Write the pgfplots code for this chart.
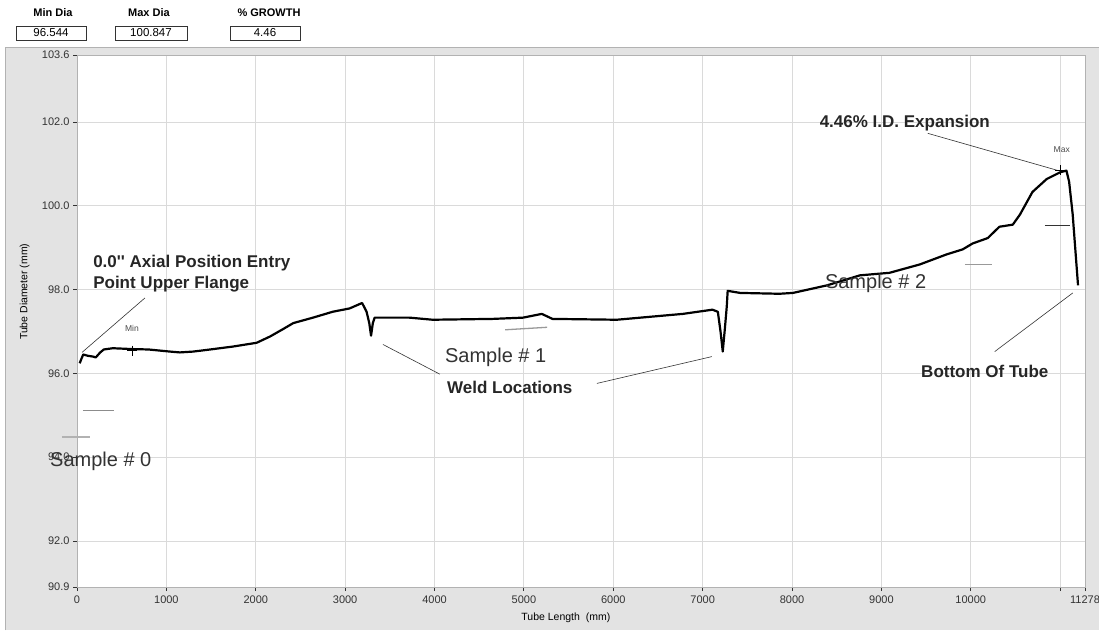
\documentclass[border=0pt]{standalone}
\usepackage{fontspec}
\setmainfont{Liberation Sans}
\setsansfont{Liberation Sans}
\newfontfamily\rawfont{Liberation Sans}[Ligatures=ResetAll]
\usepackage{pgfplots}
\pgfplotsset{compat=1.18}
\definecolor{panelgray}{HTML}{E3E3E3}
\definecolor{gridgray}{HTML}{DADADA}
\begin{document}
\begin{tikzpicture}
\path[use as bounding box] (0pt,0pt) rectangle (1099pt,634pt);
\fill[white] (0pt,0pt) rectangle (1099pt,634pt);
\fill[panelgray] (5pt,4pt) rectangle (1099pt,587pt);
\draw[gray!60] (5pt,4pt) -- (5pt,587pt) -- (1099pt,587pt);
% header boxes
\node[font=\fontsize{11}{13}\selectfont\bfseries] at (53pt,621pt) {Min Dia};
\node[font=\fontsize{11}{13}\selectfont\bfseries] at (149pt,621pt) {Max Dia};
\node[font=\fontsize{11}{13}\selectfont\bfseries] at (269pt,621pt) {\% GROWTH};
\draw[black!80,fill=white] (16pt,594pt) rectangle (86pt,608pt);
\draw[black!80,fill=white] (115pt,594pt) rectangle (187pt,608pt);
\draw[black!80,fill=white] (230pt,594pt) rectangle (300pt,608pt);
\node[font=\fontsize{11.5}{13}\selectfont] at (51pt,601pt) {96.544};
\node[font=\fontsize{11.5}{13}\selectfont] at (151pt,601pt) {100.847};
\node[font=\fontsize{11.5}{13}\selectfont] at (265pt,601pt) {4.46};
\begin{axis}[
  at={(77pt,47pt)}, anchor=south west,
  scale only axis, width=1008pt, height=532pt,
  xmin=0, xmax=11278, ymin=90.9, ymax=103.6,
  scaled x ticks=false, scaled y ticks=false,
  axis background/.style={fill=white},
  axis line style={gray!60},
  xtick={0,1000,2000,3000,4000,5000,6000,7000,8000,9000,10000,11000,11278},
  xticklabels={0,1000,2000,3000,4000,5000,6000,7000,8000,9000,10000,,11278},
  ytick={90.9,92,94,96,98,100,102,103.6},
  yticklabels={90.9,92.0,94.0,96.0,98.0,100.0,102.0,103.6},
  xtick pos=left, ytick pos=left,
  tick align=outside, major tick length=4pt,
  tick style={black!80, line width=0.8pt},
  grid=major, major grid style={gridgray, line width=0.8pt},
  ticklabel style={font=\fontsize{11}{13}\selectfont, text=black!80},
  xticklabel style={yshift=-1pt},
  xlabel={Tube Length\ \ (mm)},
  ylabel={Tube Diameter (mm)},
  xlabel style={font=\fontsize{10.5}{12}\selectfont, at={(axis description cs:0.485,0)}, anchor=north, yshift=-22pt},
  ylabel style={font=\fontsize{10.5}{12}\selectfont, at={(axis description cs:0,0.555)}, anchor=south, yshift=44pt},
  clip=false,
]
\addplot[black, line width=2.2pt, line join=round] coordinates {
(30,96.24) (50,96.35) (70,96.45) (120,96.42) (180,96.40) (210,96.38)
(260,96.5) (300,96.57) (400,96.6) (615,96.58) (800,96.57) (1040,96.52)
(1150,96.5) (1300,96.52) (1490,96.57) (1745,96.64) (2010,96.73) (2160,96.88)
(2300,97.05) (2420,97.2) (2640,97.33) (2860,97.47) (3050,97.55) (3190,97.68)
(3240,97.47) (3270,97.2) (3290,96.9) (3310,97.2) (3330,97.33) (3720,97.33)
(3980,97.28) (4650,97.3) (4990,97.33) (5200,97.42) (5320,97.3) (6040,97.28)
(6780,97.42) (7110,97.52) (7170,97.47) (7200,97.0) (7225,96.52) (7250,97.1)
(7270,97.6) (7280,97.97) (7420,97.92) (7860,97.9) (8010,97.92) (8390,98.1)
(8760,98.34) (9090,98.4) (9430,98.6) (9730,98.84) (9910,98.96) (10020,99.1)
(10190,99.23) (10320,99.5) (10470,99.55) (10550,99.79) (10690,100.33)
(10850,100.64) (11000,100.8) (11070,100.84) (11100,100.58) (11140,99.8)
(11200,98.1)
};
% min / max markers
\addplot[only marks, mark=+, mark size=5pt, black, thick] coordinates {(615,96.544) (11000,100.847)};
\node[font=\fontsize{8.5}{10}\selectfont, text=black!70] at (axis cs:615,97.07) {Min};
\node[font=\fontsize{8.5}{10}\selectfont, text=black!70] at (axis cs:11018,101.34) {Max};
% sample marker lines
\addplot[gray!90, line width=1.2pt] coordinates {(67,95.12) (414,95.12)};
\addplot[gray!60, line width=1.5pt] coordinates {(-168,94.48) (145,94.48)};
\addplot[gray!80, line width=1.3pt] coordinates {(4790,97.04) (5260,97.1)};
\addplot[gray!80, line width=1.5pt] coordinates {(9933,98.6) (10235,98.6)};
\addplot[black!80, line width=1.2pt] coordinates {(10830,99.53) (11107,99.53)};
% annotation lines
\addplot[black!80, line width=0.6pt] coordinates {(760,97.8) (56,96.5)};
\addplot[black!80, line width=0.6pt] coordinates {(3423,96.69) (4060,95.98)};
\addplot[black!80, line width=0.6pt] coordinates {(5817,95.76) (7103,96.4)};
\addplot[black!80, line width=0.6pt] coordinates {(9519,101.73) (10996,100.83)};
\addplot[black!80, line width=0.6pt] coordinates {(10268,96.52) (11141,97.92)};
% text annotations
\node[font=\fontsize{17}{21}\selectfont\bfseries, text=black!85, align=left, anchor=north west, inner sep=0pt] at (axis cs:180,98.82) {0.0{\rawfont\bfseries ''} Axial Position Entry\\Point Upper Flange};
\node[font=\fontsize{17}{20}\selectfont\bfseries, text=black!85] at (axis cs:9262,101.98) {4.46\% I.D. Expansion};
\node[font=\fontsize{17}{20}\selectfont\bfseries, text=black!85, anchor=west, inner sep=0pt] at (axis cs:4139,95.67) {Weld Locations};
\node[font=\fontsize{17}{20}\selectfont\bfseries, text=black!85] at (axis cs:10157,96.05) {Bottom Of Tube};
\node[font=\fontsize{20}{24}\selectfont, text=black!80, anchor=west, inner sep=0pt] at (axis cs:-302,93.9) {Sample \# 0};
\node[font=\fontsize{20}{24}\selectfont, text=black!80, anchor=west, inner sep=0pt] at (axis cs:4116,96.38) {Sample \# 1};
\node[font=\fontsize{20}{24}\selectfont, text=black!80, anchor=west, inner sep=0pt] at (axis cs:8367,98.16) {Sample \# 2};
\end{axis}
\end{tikzpicture}
\end{document}
